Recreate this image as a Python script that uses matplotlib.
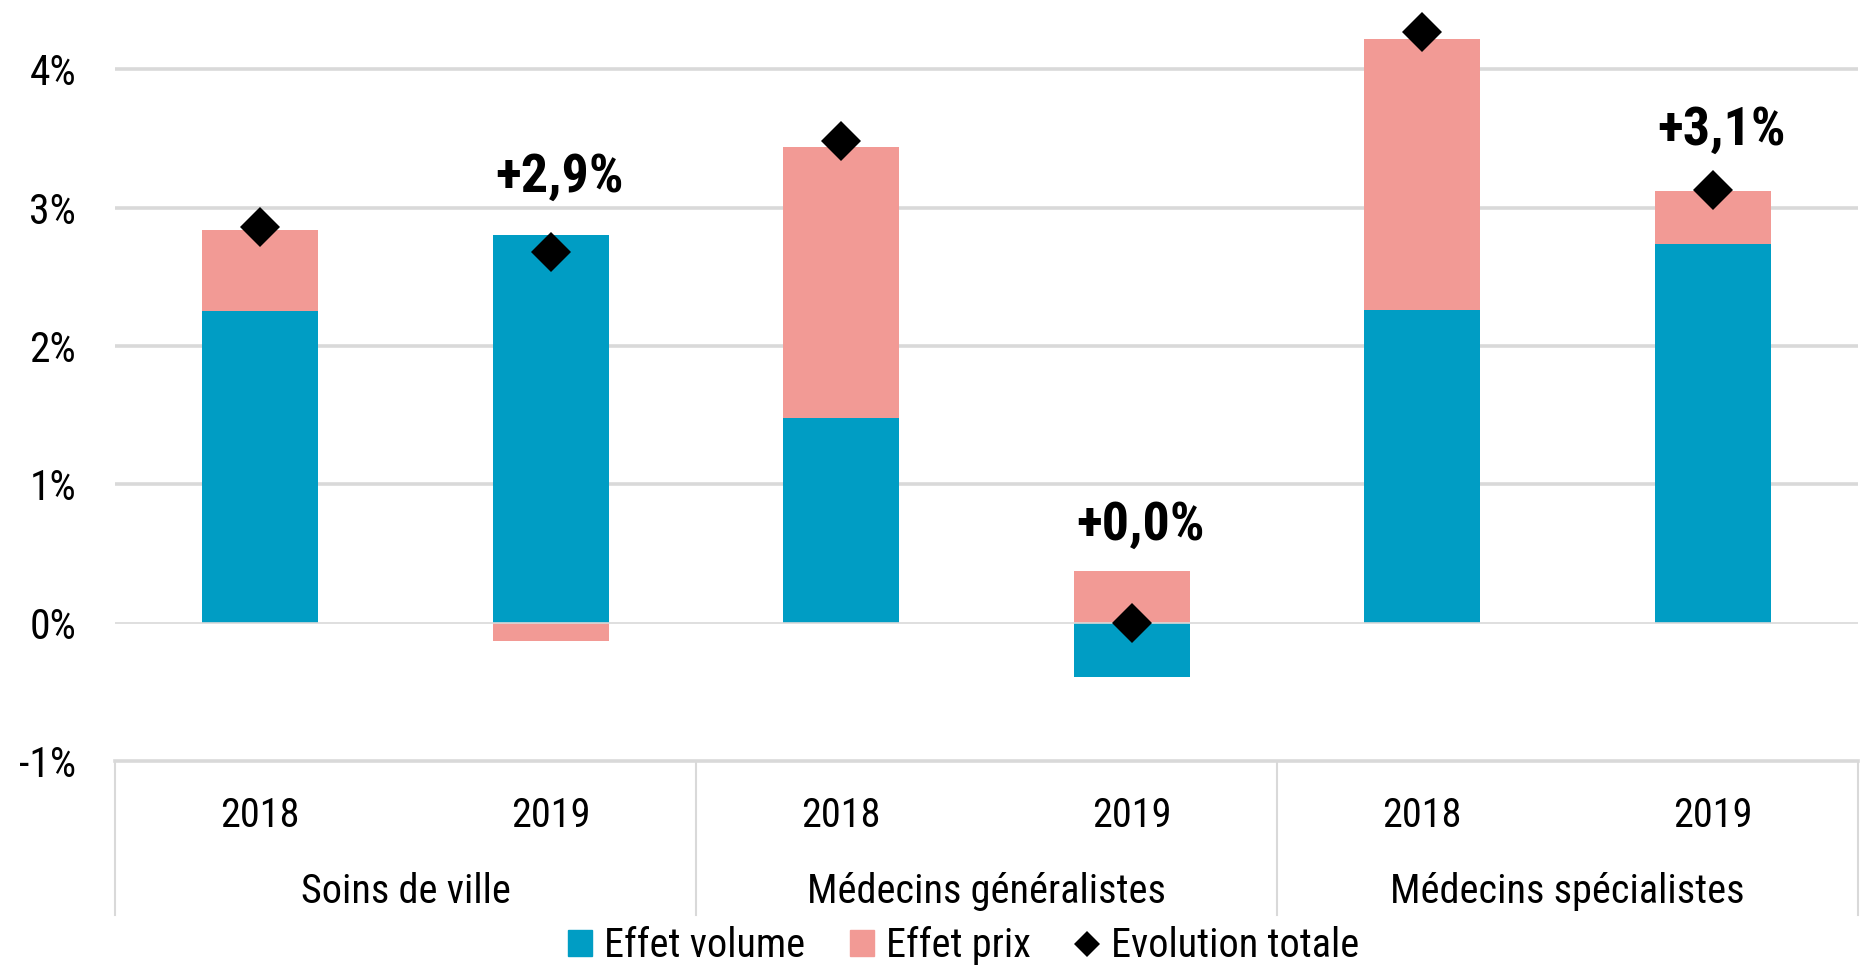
import matplotlib
matplotlib.use("Agg")
import matplotlib.pyplot as plt
from matplotlib import font_manager
from matplotlib.patches import Patch
from matplotlib.lines import Line2D

# police étroite si disponible (proche d'Arial Narrow)
polices = font_manager.fontManager.ttflist
etroites = [f.name for f in polices
            if 'Narrow' in f.name or 'Condensed' in f.name or f.stretch in ('condensed', 'semi-condensed')]
police = 'Liberation Sans'
for pref in ['Liberation Sans Narrow', 'Arial Narrow', 'Roboto Condensed',
             'Noto Sans Condensed', 'Open Sans Condensed']:
    if pref in etroites:
        police = pref
        break
else:
    if etroites:
        police = etroites[0]
plt.rcParams['font.family'] = [police, 'DejaVu Sans']
plt.rcParams['font.stretch'] = 'condensed'

# données (en %)
annees = ['2018', '2019', '2018', '2019', '2018', '2019']
groupes = ['Soins de ville', 'Médecins généralistes', 'Médecins spécialistes']
effet_volume = [2.25, 2.80, 1.48, -0.39, 2.26, 2.74]
effet_prix = [0.59, -0.13, 1.96, 0.37, 1.96, 0.38]
evolution_totale = [2.86, 2.68, 3.48, 0.00, 4.27, 3.13]
etiquettes = {1: '+2,9%', 3: '+0,0%', 5: '+3,1%'}
decalage_etiquettes = {1: 0.42, 3: 0.33, 5: 0.44}

bleu = '#009DC4'
rose = '#F29A95'
gris = '#D9D9D9'

fig = plt.figure(figsize=(18.64, 9.73), dpi=100)
ax = fig.add_axes([0.0617, 0.2179, 0.935, 0.7821])

x = list(range(len(annees)))

# barres empilées : les valeurs positives et négatives partent de 0 séparément
bas_prix = []
for v, p in zip(effet_volume, effet_prix):
    if (v >= 0) == (p >= 0):
        bas_prix.append(v)
    else:
        bas_prix.append(0)

ax.bar(x, effet_volume, width=0.4, color=bleu, zorder=2, linewidth=0)
ax.bar(x, effet_prix, bottom=bas_prix, width=0.4, color=rose, zorder=2, linewidth=0)
ax.plot(x, evolution_totale, linestyle='none', marker='D', markersize=20,
        color='black', markeredgewidth=0, zorder=4)

for i, txt in etiquettes.items():
    haut = max(effet_volume[i], 0) + max(effet_prix[i], 0)
    ax.text(i + 0.03, haut + decalage_etiquettes[i], txt, ha='center', va='center',
            fontsize=39, fontweight='bold', zorder=5)

ax.set_xlim(-0.5, 5.5)
ax.set_ylim(-1, 4.5)

# quadrillage
for t in [1, 2, 3, 4]:
    ax.axhline(t, color=gris, linewidth=2.6, zorder=1)
ax.axhline(0, color=gris, linewidth=1.2, zorder=3)

for s in ['top', 'right', 'left']:
    ax.spines[s].set_visible(False)
ax.spines['bottom'].set_color(gris)
ax.spines['bottom'].set_linewidth(2.6)

ax.set_yticks([-1, 0, 1, 2, 3, 4])
ax.set_yticklabels(['-1%', '0%', '1%', '2%', '3%', '4%'])
ax.tick_params(axis='y', length=0, pad=28, labelsize=30)
ax.set_xticks(x)
ax.set_xticklabels(annees)
ax.tick_params(axis='x', length=0, pad=25, labelsize=29)

# séparateurs et noms de groupes
trans = ax.get_xaxis_transform()
for b in [-0.5, 1.5, 3.5, 5.5]:
    ax.plot([b, b], [0, -0.202], transform=trans, color=gris, linewidth=1.5,
            clip_on=False)
for g, nom in enumerate(groupes):
    ax.text(2 * g + 0.5, -0.172, nom, transform=trans, ha='center', va='center',
            fontsize=29)

poignees = [Patch(color=bleu, label='Effet volume'),
            Patch(color=rose, label='Effet prix'),
            Line2D([], [], linestyle='none', marker='D', markersize=13, color='black',
                   markeredgewidth=0, label='Evolution totale')]
fig.legend(handles=poignees, loc='center', bbox_to_anchor=(0.517, 0.028), ncol=3,
           frameon=False, fontsize=29, handlelength=0.6, handleheight=0.6,
           handletextpad=0.3, columnspacing=1.1)

fig.savefig('out.png', dpi=100)
